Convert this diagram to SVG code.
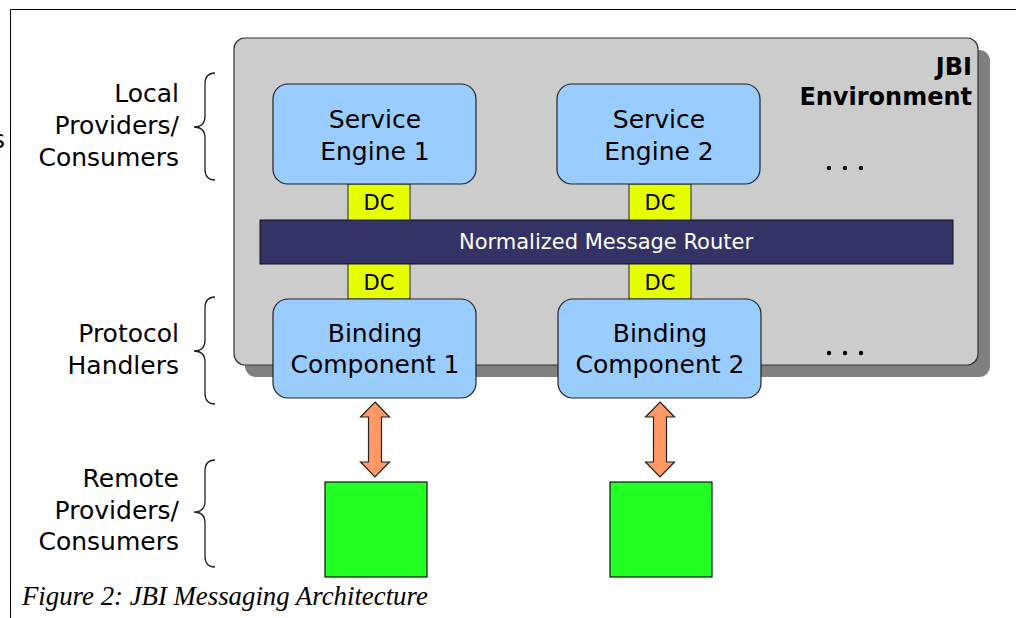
<svg xmlns="http://www.w3.org/2000/svg" width="1016" height="618" viewBox="0 0 1016 618">
  <style>
    .lbl { font-family: "DejaVu Sans", Verdana, sans-serif; font-size: 25px; fill: #000; }
    .side { text-anchor: end; }
    .mid { text-anchor: middle; }
    .node { fill: #99ccff; stroke: #222; stroke-width: 1.2; }
    .dc { fill: #e6ff00; stroke: #222; stroke-width: 1; }
    .dctxt { font-family: "DejaVu Sans", Verdana, sans-serif; font-size: 21px; text-anchor: middle; fill: #000; }
    .brace { fill: none; stroke: #222; stroke-width: 1.3; }
    .arrow { fill: #ff9966; stroke: #222; stroke-width: 1.2; stroke-linejoin: miter; }
    .remote { fill: #22ff22; stroke: #111; stroke-width: 1.2; }
    .dot { fill: #000; }
  </style>

  <rect width="1016" height="618" fill="#fff"/>

  <!-- page frame -->
  <path d="M10.5 618 V9.5 H1016" fill="none" stroke="#000" stroke-width="1"/>
  <text class="lbl side" x="5" y="148">s</text>

  <!-- JBI environment container -->
  <g id="jbi-environment">
    <rect x="245" y="50" width="745" height="327" rx="11" fill="#808080"/>
    <rect x="234" y="38" width="744" height="327" rx="11" fill="#cccccc" stroke="#333" stroke-width="1.2"/>
    <text x="972" y="75" text-anchor="end" font-family="DejaVu Sans, Verdana, sans-serif" font-size="24" font-weight="bold">JBI</text>
    <text x="972" y="105" text-anchor="end" font-family="DejaVu Sans, Verdana, sans-serif" font-size="24" font-weight="bold">Environment</text>
    <circle class="dot" cx="829" cy="168" r="2.2"/>
    <circle class="dot" cx="845" cy="168" r="2.2"/>
    <circle class="dot" cx="861" cy="168" r="2.2"/>
    <circle class="dot" cx="829" cy="353" r="2.2"/>
    <circle class="dot" cx="845" cy="353" r="2.2"/>
    <circle class="dot" cx="861" cy="353" r="2.2"/>
  </g>

  <!-- normalized message router -->
  <g id="nmr">
    <rect x="260" y="220" width="693" height="44" fill="#333366" stroke="#111" stroke-width="1"/>
    <text x="606" y="249" text-anchor="middle" font-family="DejaVu Sans, Verdana, sans-serif" font-size="21" fill="#fff">Normalized Message Router</text>
  </g>

  <!-- delivery channels -->
  <g id="dc-se1">
    <rect class="dc" x="348" y="184" width="62" height="36"/>
    <text class="dctxt" x="379" y="210">DC</text>
  </g>
  <g id="dc-se2">
    <rect class="dc" x="629" y="184" width="62" height="36"/>
    <text class="dctxt" x="660" y="210">DC</text>
  </g>
  <g id="dc-bc1">
    <rect class="dc" x="348" y="264" width="62" height="35"/>
    <text class="dctxt" x="379" y="290">DC</text>
  </g>
  <g id="dc-bc2">
    <rect class="dc" x="629" y="264" width="62" height="35"/>
    <text class="dctxt" x="660" y="290">DC</text>
  </g>

  <!-- components -->
  <g id="service-engine-1">
    <rect class="node" x="273" y="84" width="203" height="100" rx="15"/>
    <text class="lbl mid" x="375" y="128">Service</text>
    <text class="lbl mid" x="375" y="160">Engine 1</text>
  </g>
  <g id="service-engine-2">
    <rect class="node" x="557" y="84" width="203" height="100" rx="15"/>
    <text class="lbl mid" x="659" y="128">Service</text>
    <text class="lbl mid" x="659" y="160">Engine 2</text>
  </g>
  <g id="binding-component-1">
    <rect class="node" x="273" y="299" width="203" height="99" rx="15"/>
    <text class="lbl mid" x="375" y="342">Binding</text>
    <text class="lbl mid" x="375" y="373">Component 1</text>
  </g>
  <g id="binding-component-2">
    <rect class="node" x="558" y="299" width="203" height="99" rx="15"/>
    <text class="lbl mid" x="660" y="342">Binding</text>
    <text class="lbl mid" x="660" y="373">Component 2</text>
  </g>

  <!-- remote endpoints -->
  <g id="remote-1">
    <rect class="remote" x="325" y="482" width="102" height="95"/>
  </g>
  <g id="remote-2">
    <rect class="remote" x="610" y="482" width="102" height="95"/>
  </g>

  <!-- connectors -->
  <g id="connectors">
    <polygon class="arrow" points="375,402 389.5,417 381.5,417 381.5,462 389.5,462 375,477 360.5,462 368.5,462 368.5,417 360.5,417"/>
    <polygon class="arrow" points="660,402 674.5,417 666.5,417 666.5,462 674.5,462 660,477 645.5,462 653.5,462 653.5,417 645.5,417"/>
  </g>

  <!-- layer braces and labels -->
  <g id="layer-local">
    <path class="brace" d="M215 73 Q205 73 205 84 V116 Q205 127 194 127 Q205 127 205 138 V169 Q205 180 215 180"/>
    <text class="lbl side" x="179" y="102">Local</text>
    <text class="lbl side" x="179" y="134">Providers/</text>
    <text class="lbl side" x="179" y="166">Consumers</text>
  </g>
  <g id="layer-protocol">
    <path class="brace" d="M215 297 Q205 297 205 308 V340 Q205 351 194 351 Q205 351 205 362 V393 Q205 404 215 404"/>
    <text class="lbl side" x="179" y="342">Protocol</text>
    <text class="lbl side" x="179" y="374">Handlers</text>
  </g>
  <g id="layer-remote">
    <path class="brace" d="M215 460 Q205 460 205 471 V501 Q205 512 194 512 Q205 512 205 523 V556 Q205 567 215 567"/>
    <text class="lbl side" x="179" y="487">Remote</text>
    <text class="lbl side" x="179" y="519">Providers/</text>
    <text class="lbl side" x="179" y="550">Consumers</text>
  </g>

  <text x="22" y="605" font-family="Liberation Serif, Times New Roman, serif" font-style="italic" font-size="26.8">Figure 2: JBI Messaging Architecture</text>
</svg>
